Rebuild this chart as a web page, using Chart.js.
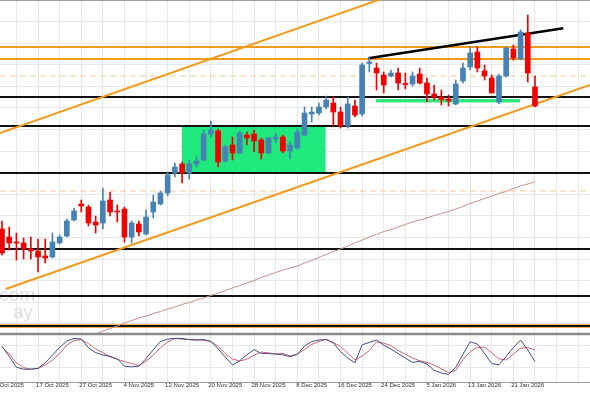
<!DOCTYPE html>
<html>
<head>
<meta charset="utf-8">
<script src="https://cdn.jsdelivr.net/npm/chart.js@4.4.1/dist/chart.umd.min.js"></script>
<style>
  html, body { margin: 0; padding: 0; background: #fff; }
  #wrap { width: 590px; height: 393px; position: relative; }
</style>
</head>
<body>
<div id="wrap"><canvas id="chart"></canvas></div>
<script>
// one bar per trading day, bar 1 = 9 Oct 2025, a date label every 6 bars
const tickLabels = ['9 Oct 2025', '17 Oct 2025', '27 Oct 2025', '4 Nov 2025', '12 Nov 2025',
  '20 Nov 2025', '28 Nov 2025', '8 Dec 2025', '16 Dec 2025', '24 Dec 2025',
  '5 Jan 2026', '13 Jan 2026', '21 Jan 2026'];

const opens = [171, 163, 157.5, 157, 151, 149, 144, 143, 157, 164,
  180, 196, 193, 178, 177, 200, 188.5, 191, 163, 176,
  166, 188, 196, 207, 227, 236, 227, 236, 240, 266,
  269, 239, 255, 247, 265, 266, 260, 247, 261, 263,
  249, 252, 265, 286, 287, 293, 297, 288, 274, 294,
  286, 336.5, 332, 325, 324, 327, 316.5, 316, 326, 317,
  306, 303, 301, 296, 319, 333, 348, 329, 322, 298,
  324, 351, 341, 367, 313];
const highs = [179, 173, 167, 162, 163, 161, 161, 167, 165, 181,
  192, 200, 195, 184, 212, 208, 195, 193, 179, 179,
  190, 205, 209, 228, 237, 238, 240, 243, 270, 279,
  271, 255, 263, 269, 268, 270, 262, 263, 267, 265,
  258, 271, 293, 293, 297, 304, 303, 293, 303, 300,
  337, 343, 337, 328, 330, 332, 327, 328, 332, 322,
  315, 310, 305, 320, 337, 353, 353, 335, 325, 326,
  353, 355, 370, 385, 324];
const lows = [145, 150, 140, 141, 141, 128, 137, 142, 156, 163,
  179, 188, 174, 167, 171, 184, 178, 158, 157, 164,
  165, 182, 195, 204, 223, 217, 221, 233, 239, 263,
  233, 238, 240, 246, 255, 248, 241, 246, 257, 247,
  241, 251, 264, 278, 285, 291, 275, 272, 272, 283,
  284, 328, 310, 307, 323, 310, 311, 314, 316, 298,
  300, 295, 294, 295, 317, 330, 328, 320, 307, 296,
  323, 340, 340, 318, 293];
const closes = [147, 157, 157, 151, 149, 143, 142, 158, 163, 179,
  189, 194, 177, 175, 199, 188, 188, 163, 177, 168,
  183, 198, 207, 225, 233, 227, 236, 239, 266, 270,
  238, 253, 247, 267, 262, 259, 247, 262, 263, 249,
  255, 268, 287, 288, 293, 300, 288, 274, 296, 285,
  335, 338, 327, 315, 327, 317, 315.5, 324, 317, 306,
  303, 300.5, 299, 316, 332, 347, 332, 324, 307, 324,
  352, 342, 368, 327, 294];

// moving average, only the part above the indicator window is visible
const maValues = [null, null, null, null, null, null, null, null, null, null,
  null, null, null, 66, 69, 71.5, 74, 77, 79.5, 82,
  84, 86.5, 88.5, 91, 93, 95.5, 97.5, 100, 102, 104.5,
  107, 109.5, 112, 114.5, 117, 119.5, 122.5, 125, 127.5, 130,
  132, 134, 137, 139.5, 142.5, 145.5, 148.5, 151, 154, 157,
  160, 163, 165.5, 168.5, 170.5, 173, 175.5, 178, 180, 182,
  184.5, 186.5, 188.5, 191, 193.5, 196.5, 199, 201.5, 204, 206.5,
  208.5, 211.5, 214, 216, 218];

const stochMain = [74, 49, 22, 17, 17, 19, 33, 52, 71.5, 87.5,
  94, 92.5, 70.5, 58.5, 52.5, 49, 43, 24.5, 23, 24.5,
  43.5, 65.5, 86, 92.5, 94, 94, 91, 90, 91.5, 86.5,
  68, 47.5, 27.5, 38, 53, 66, 56.5, 56, 55, 53,
  48.5, 54, 75, 86, 90, 91, 83, 61, 45, 33,
  78, 84, 90, 77, 67.5, 56, 45, 34, 36.5, 30,
  14, 7.5, 4, 22, 54, 85.5, 80, 56.5, 31, 28,
  49, 71, 90, 65, 36];
const stochSignal = [73, 55, 33, 21, 17, 19, 27.5, 39.5, 56, 77.5,
  89, 91, 81, 68, 58, 48, 42, 36, 31, 26,
  37, 52.5, 70.5, 85, 94, 92, 91, 90.5, 89, 86.5,
  74, 56, 42.5, 37.5, 42, 52, 60, 58, 55, 56.5,
  50, 55, 66, 79, 86, 92, 83.5, 74, 57, 40,
  50, 64, 85.5, 82, 76, 64, 54, 45, 38, 34,
  27, 18, 8.5, 14, 41, 61, 71.5, 72, 58, 43,
  40, 54.5, 69.5, 71, 65];

// horizontal levels (price)
const orangeLevels = [353, 341];
const dashedLevels = [324, 209];
const blackLevels = [303, 274, 227, 151, 104, 74];
const panelSplit = 66;

// drawn objects: [bar, price] end points
const upperChannel = [[-0.28, 267], [55, 407]];
const lowerChannel = [[0.5, 111], [81.64, 315]];
const resistance = [[50.86, 341.7], [77.93, 371.7]];
const supportLine = [[51.93, 299.3], [71.92, 299.3]];
const rangeBox = { from: 24.95, to: 44.95, top: 274, bottom: 227 };

const xMin = -0.28, xMax = 81.64;
const blue = '#4682b4', red = '#f20000', orange = '#f39a1e';

function hline(y, color, width, order, dash) {
  return {
    type: 'line', yAxisID: 'y', order,
    data: [{ x: xMin, y }, { x: xMax, y }],
    borderColor: color, borderWidth: width, borderDash: dash || [],
    pointRadius: 0,
  };
}
function segment(pts, color, width, order) {
  return {
    type: 'line', yAxisID: 'y', order,
    data: pts.map((p) => ({ x: p[0], y: p[1] })),
    borderColor: color, borderWidth: width, pointRadius: 0,
  };
}

const candleColors = opens.map((o, i) => (closes[i] >= o ? blue : red));

const datasets = [
  {
    type: 'line', yAxisID: 'y', order: 20,
    data: [{ x: rangeBox.from, y: rangeBox.top }, { x: rangeBox.to, y: rangeBox.top }],
    borderWidth: 0, pointRadius: 0,
    backgroundColor: '#1fe87c',
    fill: { value: rangeBox.bottom },
  },
  ...dashedLevels.map((v) => hline(v, '#f4c99c', 1, 15, [6, 4])),
  ...orangeLevels.map((v) => hline(v, orange, 2, 14)),
  hline(74, orange, 3.5, 14),
  ...blackLevels.map((v) => hline(v, '#111', 2, 13)),
  segment(upperChannel, orange, 2, 12),
  segment(lowerChannel, orange, 2, 12),
  segment(resistance, '#000', 2.5, 11),
  segment(supportLine, '#33e87f', 3.5, 10),
  {
    type: 'line', yAxisID: 'y', order: 9,
    data: maValues.map((v, i) => ({ x: i, y: v })),
    borderColor: '#c98f8f', borderWidth: 1, pointRadius: 0,
  },
  {
    type: 'bar', yAxisID: 'y', order: 5, grouped: false,
    data: highs.map((h, i) => ({ x: i, y: [lows[i], h] })),
    backgroundColor: candleColors, barThickness: 1,
  },
  {
    type: 'bar', yAxisID: 'y', order: 4, grouped: false,
    data: opens.map((o, i) => ({ x: i, y: [o, closes[i]] })),
    backgroundColor: candleColors, barThickness: 5, minBarLength: 1,
  },
  {
    type: 'line', yAxisID: 'ys', order: 3,
    data: stochSignal.map((v, i) => ({ x: i, y: v })),
    borderColor: '#cf6470', borderWidth: 1, pointRadius: 0,
  },
  {
    type: 'line', yAxisID: 'ys', order: 2,
    data: stochMain.map((v, i) => ({ x: i, y: v })),
    borderColor: '#404c86', borderWidth: 1, pointRadius: 0,
  },
  hline(panelSplit, '#8a8a8a', 2.5, 1),
];

const watermark = {
  id: 'watermark',
  beforeDatasetsDraw(chart) {
    const ctx = chart.ctx;
    ctx.save();
    ctx.fillStyle = '#dedede';
    ctx.font = '19px "Liberation Sans", Arial, sans-serif';
    ctx.fillText('.com', -6, 301);
    ctx.fillText('ay', 13, 318);
    ctx.restore();
  },
};

new Chart(document.getElementById('chart'), {
  type: 'line',
  data: { datasets },
  plugins: [watermark],
  options: {
    responsive: true,
    maintainAspectRatio: false,
    animation: false,
    layout: { padding: 0 },
    plugins: { legend: { display: false }, tooltip: { enabled: false } },
    scales: {
      x: {
        type: 'linear', min: xMin, max: xMax, offset: false,
        grid: {
          offset: false, drawTicks: false,
          color: (ctx) => (ctx.tick && ctx.tick.value % 3 === 2 ? '#e8e8e8' : 'rgba(0,0,0,0)'),
        },
        border: { display: true, color: '#9a9a9a' },
        ticks: {
          stepSize: 1, includeBounds: false, autoSkip: false, maxRotation: 0, padding: 0,
          color: '#333',
          font: { family: '"Liberation Sans", Arial, sans-serif', size: 6 },
          callback: (v) => (Number.isInteger(v) && (v - 1) % 6 === 0 ? tickLabels[(v - 1) / 6] || '' : ''),
        },
        afterFit: (s) => { s.height = 11; s.paddingLeft = 0; s.paddingRight = 0; },
      },
      yg: {
        position: 'left', min: 0, max: 17.69, reverse: true,
        ticks: { display: false, stepSize: 1 },
        grid: {
          drawTicks: false,
          color: (ctx) => (ctx.tick && ctx.tick.value === 0 ? '#a0a0a0' : '#e8e8e8'),
        },
        border: { display: false },
        afterFit: (s) => { s.width = 0; s.paddingTop = 0; s.paddingBottom = 0; },
      },
      y: { display: false, min: 18, max: 400 },
      ys: { display: false, min: -15, max: 940 },
    },
  },
});
</script>
</body>
</html>
